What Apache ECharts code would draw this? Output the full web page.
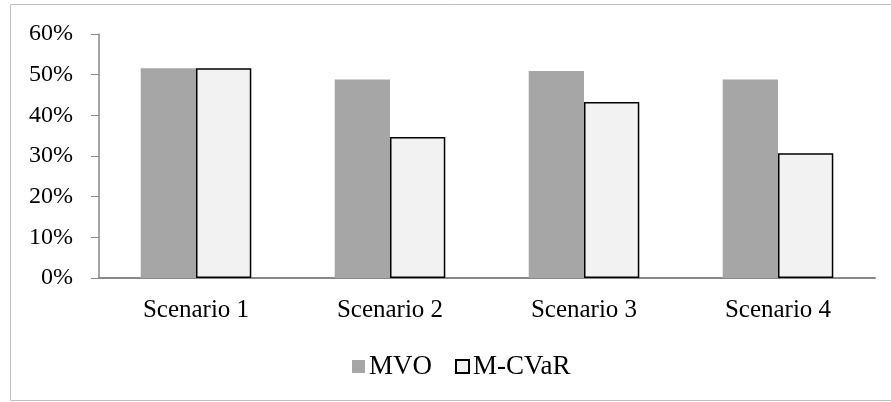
<!DOCTYPE html>
<html><head><meta charset="utf-8">
<script src="https://cdn.jsdelivr.net/npm/echarts@6/dist/echarts.min.js"></script>
<style>html,body{margin:0;padding:0;background:#fff}#c{width:891px;height:402px}</style>
</head><body><div id="c"></div>
<script>
const categories = ['Scenario 1','Scenario 2','Scenario 3','Scenario 4'];
const mvo = [51.6, 48.8, 50.9, 48.8];
const mcvar = [51.6, 34.7, 43.3, 30.7];
const yTicks = [0,10,20,30,40,50,60];

const chart = echarts.init(document.getElementById('c'));
const font = 'Liberation Serif, Times New Roman, serif';
chart.setOption({
  animation:false,
  graphic:[{type:'rect',shape:{x:10.5,y:4.5,width:890,height:396},style:{fill:'none',stroke:'#bfbfbf',lineWidth:1}}],
  grid:{left:99,right:16,top:34,bottom:124,containLabel:false},
  legend:{top:348,left:347,itemWidth:13,itemHeight:13,itemGap:23,
    textStyle:{fontFamily:font,fontSize:27,color:'#000',padding:[0,0,0,-1]},
    data:[{name:'MVO',icon:'rect'},{name:'M-CVaR',icon:'rect'}]},
  xAxis:{type:'category',data:categories,
    axisLine:{lineStyle:{color:'#898989',width:2}},axisTick:{show:false},
    axisLabel:{fontFamily:font,fontSize:25,color:'#000',margin:20}},
  yAxis:{type:'value',min:yTicks[0],max:yTicks[yTicks.length-1],interval:10,
    axisLine:{show:true,lineStyle:{color:'#898989',width:1.5}},
    axisTick:{show:true,length:8,lineStyle:{color:'#898989'}},
    splitLine:{show:false},
    axisLabel:{fontFamily:font,fontSize:24,color:'#000',margin:26,formatter:v=>v+'%'}},
  series:[
    {name:'MVO',type:'bar',data:mvo,barGap:'0%',barCategoryGap:'43%',
     itemStyle:{color:'#a6a6a6'}},
    {name:'M-CVaR',type:'bar',data:mcvar,
     itemStyle:{color:'#f2f2f2',borderColor:'#000',borderWidth:1.5}}
  ]
});
</script></body></html>
